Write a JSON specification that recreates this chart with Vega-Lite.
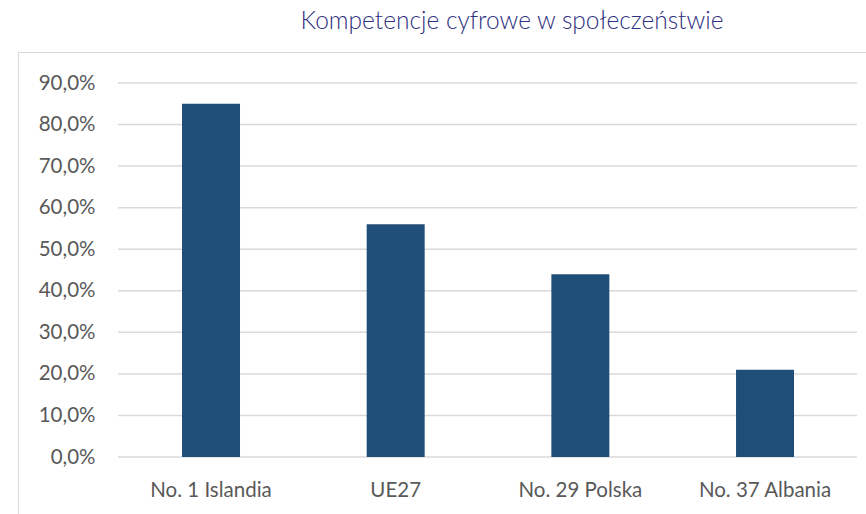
{
  "$schema": "https://vega.github.io/schema/vega-lite/v6.json",
  "width": 848,
  "height": 462,
  "autosize": {"type": "none"},
  "padding": {"left": 18, "top": 52, "right": 0, "bottom": 0},
  "background": "white",
  "config": {"view": {"stroke": "#D9D9D9", "strokeWidth": 1}, "font": "Lato"},
  "title": {
    "text": "Kompetencje cyfrowe w społeczeństwie",
    "anchor": "middle",
    "dx": 70,
    "offset": -1,
    "baseline": "alphabetic",
    "fontSize": 24.5,
    "font": "Lato",
    "fontWeight": 300,
    "color": "#2E3080"
  },
  "datasets": {
    "bars": [
      {"kraj": "No. 1 Islandia", "wartosc": 0.85},
      {"kraj": "UE27", "wartosc": 0.56},
      {"kraj": "No. 29 Polska", "wartosc": 0.44},
      {"kraj": "No. 37 Albania", "wartosc": 0.21}
    ],
    "grid": [
      {"v": 0}, {"v": 0.1}, {"v": 0.2}, {"v": 0.3}, {"v": 0.4},
      {"v": 0.5}, {"v": 0.6}, {"v": 0.7}, {"v": 0.8}, {"v": 0.9}
    ]
  },
  "layer": [
    {
      "data": {"name": "grid"},
      "mark": {"type": "rule", "color": "#D9D9D9", "strokeWidth": 1.5},
      "encoding": {
        "y": {"field": "v", "type": "quantitative"},
        "x": {"datum": "No. 1 Islandia", "type": "nominal", "bandPosition": -1.103},
        "x2": {"datum": "No. 37 Albania", "bandPosition": 2.086}
      }
    },
    {
      "data": {"name": "bars"},
      "mark": {"type": "bar", "color": "#1F4E79"},
      "encoding": {
        "x": {
          "field": "kraj",
          "type": "nominal",
          "sort": null,
          "scale": {
            "domain": ["No. 1 Islandia", "UE27", "No. 29 Polska", "No. 37 Albania"],
            "paddingInner": 0.686,
            "paddingOuter": 0.639,
            "align": 0.695
          },
          "axis": {
            "title": null,
            "orient": "bottom",
            "offset": -57,
            "domain": false,
            "ticks": false,
            "labelPadding": 23,
            "labelFontSize": 20.5,
            "labelColor": "#595959",
            "labelAngle": 0,
            "labelAlign": "center",
            "labelBaseline": "top",
            "bandPosition": 0.5
          }
        },
        "y": {
          "field": "wartosc",
          "type": "quantitative",
          "scale": {"domain": [-0.13716, 0.9746], "nice": false, "zero": false},
          "axis": {
            "title": null,
            "values": [0, 0.1, 0.2, 0.3, 0.4, 0.5, 0.6, 0.7, 0.8, 0.9],
            "labelExpr": "replace(format(datum.value, '.1%'), '.', ',')",
            "grid": false,
            "domain": false,
            "ticks": false,
            "offset": -79,
            "labelPadding": 2,
            "labelFontSize": 20.5,
            "labelColor": "#595959"
          }
        },
        "y2": {"datum": 0}
      }
    }
  ]
}
